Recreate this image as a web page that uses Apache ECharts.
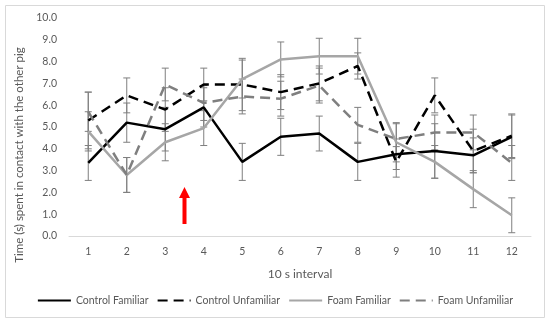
<!DOCTYPE html>
<html><head><meta charset="utf-8">
<script src="https://cdn.jsdelivr.net/npm/echarts@6/dist/echarts.min.js"></script>
<style>html,body{margin:0;padding:0;background:#fff}#c{width:550px;height:324px}</style>
</head><body><div id="c"></div>
<script>
const categories = ['1','2','3','4','5','6','7','8','9','10','11','12'];
const controlFamiliar   = [3.35,5.2,4.9,5.9,3.4,4.55,4.7,3.4,3.75,3.9,3.7,4.55];
const controlUnfamiliar = [5.3,6.45,5.8,6.95,6.95,6.6,7.0,7.8,3.4,6.45,3.9,4.6];
const foamFamiliar      = [4.8,2.8,4.3,4.95,7.2,8.1,8.25,8.25,4.3,3.4,2.15,0.95];
const foamUnfamiliar    = [5.7,2.8,6.95,6.1,6.4,6.3,6.9,5.1,4.45,4.75,4.75,3.35];
const errCF = [0.8,0.9,1.0,0.9,0.85,0.85,0.8,0.85,0.7,1.25,0.8,1.0];
const errCU = [1.3,0.8,1.0,0.75,1.2,0.8,0.8,0.6,0.7,0.8,1.0,1.0];
const errFF = [0.9,0.8,0.85,0.8,0.87,0.8,0.82,0.82,0.9,0.75,0.85,0.8];
const errFU = [0.9,0.8,0.75,0.8,0.8,0.8,0.8,0.8,0.7,0.8,0.8,0.8];
const yTicks = ['0.0','1.0','2.0','3.0','4.0','5.0','6.0','7.0','8.0','9.0','10.0'];
const arrowAt = [2.25, 0.55]; // value range of the red arrow (tip, tail)

const FONT = 'Lato';
const TXT = '#595959';
const ERR = '#7f7f7f';

function errData(vals, errs){ return vals.map((v,i)=>[i, v-errs[i], v+errs[i]]); }
function errSeries(vals, errs){
  return {
    type:'custom', silent:true, z:1,
    renderItem:function(params, api){
      const x = api.value(0);
      const lo = api.coord([x, api.value(1)]);
      const hi = api.coord([x, api.value(2)]);
      const st = {stroke:ERR, lineWidth:1};
      const w = 3.5;
      return {type:'group', children:[
        {type:'line', shape:{x1:lo[0],y1:lo[1],x2:hi[0],y2:hi[1]}, style:st},
        {type:'line', shape:{x1:lo[0]-w,y1:lo[1],x2:lo[0]+w,y2:lo[1]}, style:st},
        {type:'line', shape:{x1:hi[0]-w,y1:hi[1],x2:hi[0]+w,y2:hi[1]}, style:st}
      ]};
    },
    data: errData(vals, errs)
  };
}
function lineSeries(name, data, color, dashed){
  return {
    name, type:'line', data, symbol:'none', z:3,
    lineStyle:{color, width:2.5, type: dashed ? [10,6] : 'solid'},
    itemStyle:{color}
  };
}

const chart = echarts.init(document.getElementById('c'), null, {renderer:'canvas'});
chart.setOption({
  animation:false,
  grid:{left:69, right:19, top:18, bottom:88},
  xAxis:{
    type:'category', data:categories, boundaryGap:true,
    name:'10 s interval', nameLocation:'middle', nameGap:32,
    nameTextStyle:{fontFamily:FONT, fontSize:12, color:TXT},
    axisLine:{lineStyle:{color:'#d9d9d9', width:1}},
    axisTick:{show:false},
    axisLabel:{fontFamily:FONT, fontSize:10.5, color:TXT, margin:10}
  },
  yAxis:{
    type:'value', min:0, max:10, interval:1,
    name:'Time (s) spent in contact with the other pig', nameLocation:'middle', nameGap:30,
    nameTextStyle:{fontFamily:FONT, fontSize:11.5, color:TXT, padding:[0,56,0,0]},
    axisLine:{show:false}, axisTick:{show:false}, splitLine:{show:false},
    axisLabel:{fontFamily:FONT, fontSize:10.5, color:TXT, margin:12,
      formatter:(v)=>yTicks[Math.round(v)]}
  },
  legend:{
    bottom:13, left:'center', itemWidth:33, itemHeight:10, itemGap:8,
    itemStyle:{opacity:0},
    textStyle:{fontFamily:FONT, fontSize:10.5, color:TXT},
    data:['Control Familiar','Control Unfamiliar','Foam Familiar','Foam Unfamiliar']
  },
  series:[
    errSeries(controlFamiliar, errCF),
    errSeries(controlUnfamiliar, errCU),
    errSeries(foamFamiliar, errFF),
    errSeries(foamUnfamiliar, errFU),
    lineSeries('Control Familiar', controlFamiliar, '#000000', false),
    lineSeries('Control Unfamiliar', controlUnfamiliar, '#000000', true),
    lineSeries('Foam Familiar', foamFamiliar, '#a6a6a6', false),
    lineSeries('Foam Unfamiliar', foamUnfamiliar, '#7f7f7f', true)
  ]
});

const p3 = chart.convertToPixel({xAxisIndex:0, yAxisIndex:0}, ['3', arrowAt[0]]);
const p4 = chart.convertToPixel({xAxisIndex:0, yAxisIndex:0}, ['4', arrowAt[1]]);
const ax = (p3[0]+p4[0])/2, tipY = p3[1], tailY = p4[1];
chart.setOption({
  graphic:[
    {type:'rect', shape:{x:5.5, y:5.5, width:539, height:312}, style:{fill:null, stroke:'#d9d9d9', lineWidth:1}, silent:true, z:-1},
    {type:'polygon', shape:{points:[[ax,tipY],[ax+5.5,tipY+11],[ax+2,tipY+11],[ax+2,tailY],[ax-2,tailY],[ax-2,tipY+11],[ax-5.5,tipY+11]]}, style:{fill:'#ff0000'}}
  ]
});
</script></body></html>
